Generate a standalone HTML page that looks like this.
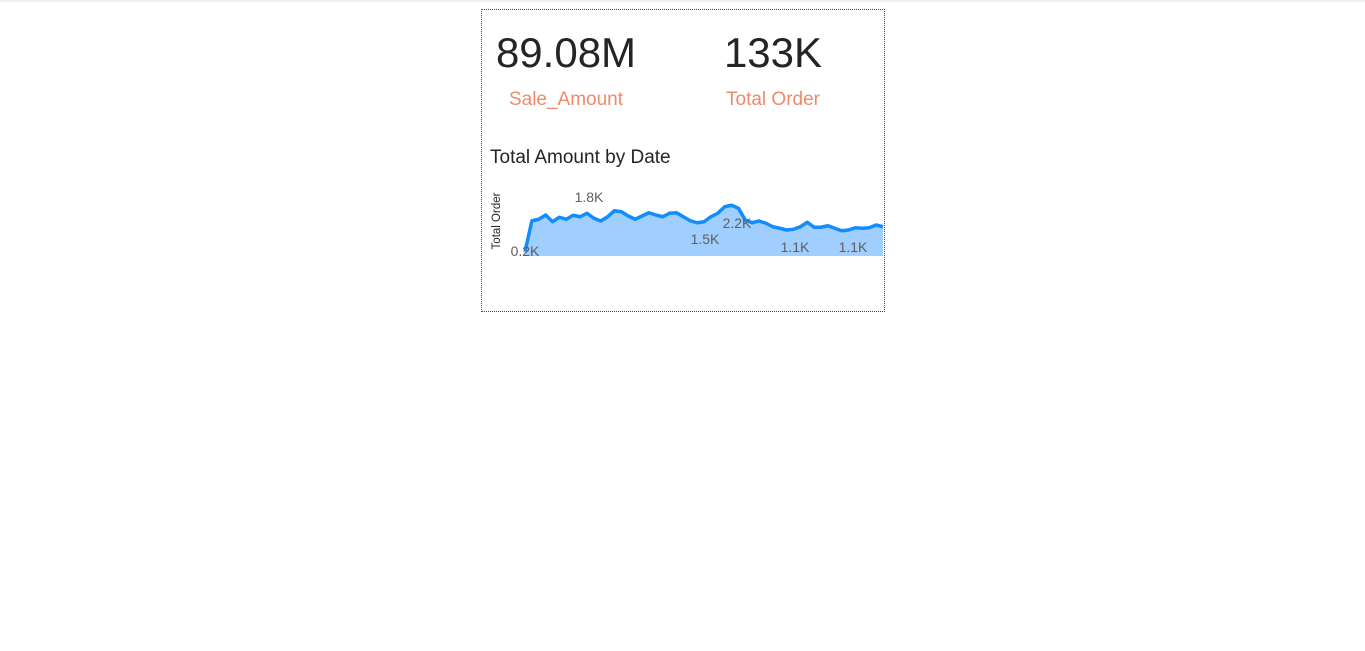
<!DOCTYPE html>
<html><head><meta charset="utf-8"><style>
body{margin:0;width:1365px;height:651px;background:#fff;position:relative;overflow:hidden;font-family:"Liberation Sans",sans-serif}
.t{position:absolute;white-space:nowrap}
</style></head><body>
<div style="position:absolute;left:0;top:0;width:1365px;height:2px;background:#f0f0f0"></div>
<div style="position:absolute;left:481px;top:9px;width:402px;height:301px;border:1px dotted #444"></div>
<div class="t" style="left:466px;width:200px;text-align:center;top:29px;font-size:42px;color:#252423">89.08M</div>
<div class="t" style="left:466px;width:200px;text-align:center;top:89px;font-size:19px;color:#EE8A6C">Sale_Amount</div>
<div class="t" style="left:673px;width:200px;text-align:center;top:29px;font-size:42px;color:#252423">133K</div>
<div class="t" style="left:673px;width:200px;text-align:center;top:89px;font-size:19px;color:#EE8A6C">Total Order</div>
<div class="t" style="left:490px;top:147px;font-size:19px;color:#252423">Total Amount by Date</div>
<svg id="chart" style="position:absolute;left:0;top:0" width="1365" height="651">
<text transform="translate(500,221) rotate(-90)" text-anchor="middle" font-size="11.5" fill="#252423" font-family="Liberation Sans">Total Order</text>
</svg>
<script>
const values=[0.29,1.53,1.59,1.76,1.49,1.67,1.59,1.75,1.69,1.83,1.63,1.52,1.69,1.93,1.89,1.72,1.59,1.72,1.85,1.76,1.69,1.83,1.85,1.69,1.53,1.45,1.49,1.69,1.83,2.09,2.15,2.03,1.56,1.45,1.52,1.43,1.29,1.23,1.16,1.19,1.29,1.47,1.27,1.27,1.33,1.23,1.13,1.16,1.25,1.23,1.25,1.36,1.29];
const labelTexts=["0.2K","1.8K","1.5K","2.2K","1.1K","1.1K"];
const labelVals=[0.12,2.28,0.6,1.24,0.28,0.28];
const svg=document.getElementById('chart');const NS='http://www.w3.org/2000/svg';
const x=i=>525+i*(358/(values.length-1));
const y=v=>259-v*25;
const base=256;
let d='M'+x(0)+','+base;
values.forEach((v,i)=>{d+=' L'+x(i)+','+Math.min(base,y(v));});
d+=' L'+x(values.length-1)+','+base+' Z';
const area=document.createElementNS(NS,'path');
area.setAttribute('d',d);area.setAttribute('fill','#A0CFFF');


svg.appendChild(area);
const line=document.createElementNS(NS,'polyline');
line.setAttribute('points',values.map((v,i)=>x(i)+','+Math.min(base,y(v))).join(' '));
line.setAttribute('fill','none');line.setAttribute('stroke','#118DFF');line.setAttribute('stroke-width','3.5');line.setAttribute('stroke-linejoin','round');


svg.appendChild(line);
const lx=[525,589,705,737,795,853];
labelTexts.forEach((t,k)=>{
 const tx=document.createElementNS(NS,'text');
 tx.setAttribute('x',lx[k]);tx.setAttribute('y',y(labelVals[k]));
 tx.setAttribute('text-anchor','middle');tx.setAttribute('font-size','14');tx.setAttribute('fill','#605E5C');tx.setAttribute('font-family','Liberation Sans');
 tx.textContent=t;
 
 
 svg.appendChild(tx);
});
</script>
</body></html>
